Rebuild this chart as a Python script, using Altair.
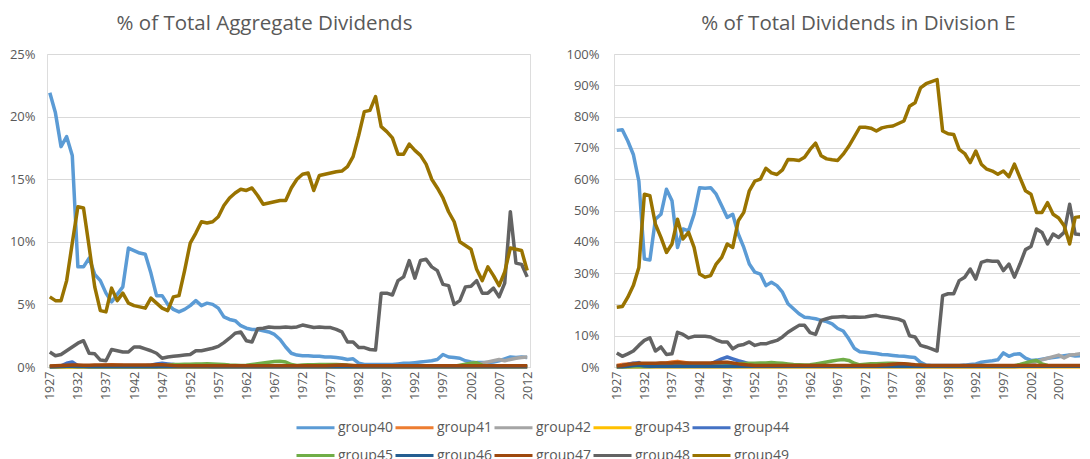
import altair as alt
import pandas as pd

years = list(range(1927, 2013))
groups = ["group40", "group41", "group42", "group43", "group44",
          "group45", "group46", "group47", "group48", "group49"]
colors = ["#5B9BD5", "#ED7D31", "#A5A5A5", "#FFC000", "#4472C4",
          "#70AD47", "#255E91", "#9E480E", "#636363", "#997300"]
x_ticks = [1927, 1932, 1937, 1942, 1947, 1952, 1957, 1962, 1967, 1972,
           1977, 1982, 1987, 1992, 1997, 2002, 2007, 2012]
left_y_ticks = [0, 5, 10, 15, 20, 25]
right_y_ticks = [0, 10, 20, 30, 40, 50, 60, 70, 80, 90, 100]

# ---------- Left panel: % of Total Aggregate Dividends ----------
L40 = [21.9, 20.3, 17.6, 18.4, 16.9, 8.0, 8.0, 8.7, 7.4, 6.9,
       5.9, 5.2, 5.8, 6.4, 9.5, 9.3, 9.1, 9.0, 7.5, 5.7,
       5.7, 5.0, 4.6, 4.4, 4.6, 4.9, 5.3, 4.9, 5.1, 5.0,
       4.7, 4.0, 3.8, 3.7, 3.3, 3.1, 3.0, 3.0, 2.9, 2.8,
       2.6, 2.2, 1.6, 1.1, 0.95, 0.9, 0.9, 0.85, 0.85, 0.8,
       0.8, 0.75, 0.7, 0.6, 0.65, 0.3, 0.2, 0.2, 0.2, 0.2,
       0.2, 0.2, 0.25, 0.3, 0.3, 0.35, 0.4, 0.45, 0.5, 0.6,
       1.0, 0.8, 0.75, 0.7, 0.5, 0.4, 0.35, 0.35, 0.35, 0.4,
       0.5, 0.65, 0.8, 0.75, 0.8, 0.75]
L41 = [0.05, 0.08, 0.1, 0.1, 0.08, 0.06, 0.06, 0.08, 0.1, 0.12,
       0.15, 0.18, 0.15, 0.12, 0.1, 0.1, 0.1, 0.08, 0.08, 0.1,
       0.1, 0.08, 0.06, 0.05, 0.05, 0.05, 0.04, 0.04, 0.04, 0.04,
       0.04, 0.04, 0.04, 0.03, 0.03, 0.03, 0.03, 0.03, 0.03, 0.03,
       0.03, 0.03, 0.03, 0.03, 0.03, 0.03, 0.03, 0.03, 0.03, 0.03,
       0.03, 0.03, 0.03, 0.03, 0.03, 0.03, 0.03, 0.03, 0.03, 0.03,
       0.02, 0.02, 0.02, 0.02, 0.02, 0.02, 0.02, 0.02, 0.02, 0.02,
       0.02, 0.02, 0.02, 0.02, 0.02, 0.02, 0.02, 0.02, 0.02, 0.02,
       0.02, 0.02, 0.02, 0.02, 0.02, 0.02]
L42 = [0.0, 0.0, 0.0, 0.0, 0.0, 0.0, 0.0, 0.0, 0.0, 0.0,
       0.0, 0.0, 0.0, 0.0, 0.0, 0.0, 0.0, 0.0, 0.0, 0.0,
       0.0, 0.0, 0.0, 0.0, 0.0, 0.0, 0.0, 0.0, 0.0, 0.0,
       0.0, 0.0, 0.0, 0.0, 0.0, 0.0, 0.0, 0.0, 0.0, 0.0,
       0.0, 0.0, 0.0, 0.0, 0.0, 0.0, 0.0, 0.0, 0.0, 0.0,
       0.0, 0.0, 0.0, 0.0, 0.0, 0.0, 0.0, 0.0, 0.0, 0.0,
       0.0, 0.0, 0.0, 0.0, 0.0, 0.0, 0.0, 0.0, 0.0, 0.0,
       0.0, 0.0, 0.0, 0.02, 0.05, 0.1, 0.2, 0.3, 0.4, 0.5,
       0.6, 0.5, 0.6, 0.7, 0.75, 0.8]
L43 = [0.01, 0.01, 0.01, 0.01, 0.01, 0.01, 0.01, 0.01, 0.01, 0.01,
       0.01, 0.01, 0.01, 0.01, 0.01, 0.01, 0.01, 0.01, 0.01, 0.01,
       0.01, 0.01, 0.01, 0.01, 0.01, 0.01, 0.01, 0.01, 0.01, 0.01,
       0.01, 0.01, 0.01, 0.01, 0.01, 0.01, 0.01, 0.01, 0.01, 0.01,
       0.01, 0.01, 0.01, 0.01, 0.01, 0.01, 0.01, 0.01, 0.01, 0.01,
       0.01, 0.01, 0.01, 0.01, 0.01, 0.01, 0.01, 0.01, 0.01, 0.01,
       0.01, 0.01, 0.01, 0.01, 0.01, 0.01, 0.01, 0.01, 0.01, 0.01,
       0.01, 0.01, 0.01, 0.01, 0.01, 0.01, 0.01, 0.01, 0.01, 0.01,
       0.01, 0.01, 0.01, 0.01, 0.01, 0.01]
L44 = [0.02, 0.05, 0.1, 0.3, 0.4, 0.1, 0.05, 0.05, 0.05, 0.05,
       0.05, 0.05, 0.05, 0.06, 0.06, 0.07, 0.08, 0.1, 0.15, 0.25,
       0.3, 0.25, 0.2, 0.15, 0.1, 0.08, 0.06, 0.05, 0.05, 0.04,
       0.04, 0.04, 0.04, 0.03, 0.03, 0.03, 0.03, 0.03, 0.03, 0.03,
       0.03, 0.03, 0.03, 0.03, 0.03, 0.03, 0.03, 0.03, 0.03, 0.03,
       0.03, 0.03, 0.03, 0.03, 0.03, 0.03, 0.03, 0.03, 0.03, 0.03,
       0.03, 0.03, 0.03, 0.03, 0.03, 0.03, 0.03, 0.03, 0.03, 0.03,
       0.03, 0.03, 0.03, 0.03, 0.03, 0.03, 0.03, 0.03, 0.03, 0.03,
       0.03, 0.03, 0.03, 0.03, 0.03, 0.03]
L45 = [0.03, 0.03, 0.03, 0.03, 0.03, 0.03, 0.03, 0.03, 0.03, 0.03,
       0.03, 0.03, 0.03, 0.03, 0.03, 0.03, 0.03, 0.03, 0.03, 0.03,
       0.1, 0.15, 0.2, 0.2, 0.22, 0.22, 0.24, 0.24, 0.25, 0.24,
       0.22, 0.2, 0.16, 0.14, 0.12, 0.14, 0.2, 0.26, 0.32, 0.38,
       0.44, 0.46, 0.4, 0.2, 0.13, 0.16, 0.18, 0.18, 0.19, 0.2,
       0.2, 0.19, 0.17, 0.15, 0.1, 0.08, 0.07, 0.07, 0.07, 0.07,
       0.07, 0.07, 0.07, 0.07, 0.07, 0.07, 0.07, 0.07, 0.07, 0.07,
       0.07, 0.07, 0.07, 0.14, 0.22, 0.3, 0.34, 0.15, 0.08, 0.07,
       0.07, 0.07, 0.07, 0.07, 0.07, 0.07]
L46 = [0.02, 0.02, 0.03, 0.05, 0.06, 0.04, 0.03, 0.02, 0.02, 0.02,
       0.02, 0.02, 0.02, 0.02, 0.02, 0.02, 0.02, 0.02, 0.02, 0.02,
       0.02, 0.02, 0.02, 0.02, 0.02, 0.02, 0.02, 0.02, 0.02, 0.02,
       0.02, 0.02, 0.02, 0.02, 0.02, 0.02, 0.02, 0.02, 0.02, 0.02,
       0.02, 0.02, 0.02, 0.02, 0.02, 0.02, 0.02, 0.02, 0.02, 0.02,
       0.02, 0.02, 0.02, 0.02, 0.02, 0.02, 0.02, 0.02, 0.02, 0.02,
       0.02, 0.02, 0.02, 0.02, 0.02, 0.02, 0.02, 0.02, 0.02, 0.02,
       0.02, 0.02, 0.02, 0.02, 0.02, 0.02, 0.02, 0.02, 0.02, 0.02,
       0.02, 0.02, 0.02, 0.02, 0.02, 0.02]
L47 = [0.08, 0.1, 0.12, 0.14, 0.15, 0.15, 0.14, 0.14, 0.15, 0.15,
       0.15, 0.16, 0.15, 0.15, 0.15, 0.15, 0.15, 0.15, 0.16, 0.18,
       0.18, 0.15, 0.12, 0.1, 0.1, 0.1, 0.1, 0.1, 0.1, 0.1,
       0.1, 0.1, 0.1, 0.1, 0.1, 0.1, 0.1, 0.1, 0.1, 0.1,
       0.1, 0.1, 0.1, 0.1, 0.1, 0.1, 0.1, 0.1, 0.1, 0.1,
       0.12, 0.14, 0.15, 0.14, 0.12, 0.1, 0.1, 0.1, 0.1, 0.1,
       0.1, 0.1, 0.1, 0.1, 0.1, 0.1, 0.1, 0.1, 0.1, 0.1,
       0.1, 0.1, 0.1, 0.1, 0.1, 0.1, 0.1, 0.1, 0.1, 0.1,
       0.1, 0.1, 0.1, 0.1, 0.1, 0.1]
L48 = [1.2, 0.9, 1.0, 1.3, 1.6, 1.9, 2.1, 1.1, 1.05, 0.55,
       0.5, 1.4, 1.3, 1.2, 1.2, 1.6, 1.6, 1.45, 1.3, 1.1,
       0.7, 0.8, 0.85, 0.9, 0.95, 1.0, 1.3, 1.3, 1.4, 1.5,
       1.65, 1.95, 2.3, 2.7, 2.8, 2.1, 2.0, 3.05, 3.1, 3.2,
       3.15, 3.15, 3.2, 3.15, 3.2, 3.35, 3.25, 3.15, 3.2, 3.15,
       3.15, 3.0, 2.8, 2.0, 2.0, 1.55, 1.55, 1.4, 1.35, 5.9,
       5.9, 5.75, 6.9, 7.2, 8.5, 7.1, 8.5, 8.6, 8.0, 7.7,
       6.6, 6.5, 5.0, 5.3, 6.4, 6.45, 6.9, 5.9, 5.9, 6.3,
       5.6, 6.7, 12.4, 8.3, 8.2, 7.2]
L49 = [5.6, 5.3, 5.3, 6.9, 9.9, 12.8, 12.7, 9.6, 6.4, 4.5,
       4.4, 6.3, 5.3, 5.9, 5.1, 4.9, 4.8, 4.7, 5.5, 5.1,
       4.7, 4.5, 5.6, 5.7, 7.7, 9.9, 10.7, 11.6, 11.5, 11.6,
       12.0, 12.9, 13.5, 13.9, 14.2, 14.1, 14.3, 13.7, 13.0, 13.1,
       13.2, 13.3, 13.3, 14.3, 15.0, 15.4, 15.5, 14.1, 15.3, 15.4,
       15.5, 15.6, 15.65, 16.0, 16.8, 18.5, 20.4, 20.5, 21.6, 19.2,
       18.8, 18.3, 17.0, 17.0, 17.8, 17.3, 16.9, 16.2, 15.0, 14.3,
       13.5, 12.4, 11.6, 10.0, 9.7, 9.4, 7.8, 6.9, 8.0, 7.3,
       6.5, 7.6, 9.5, 9.4, 9.3, 7.7]

# ---------- Right panel: % of Total Dividends in Division E ----------
R40 = [75.6, 75.8, 72.2, 67.9, 59.4, 34.5, 34.2, 47.2, 48.8, 56.8,
       53.1, 38.2, 44.1, 43.5, 48.8, 57.3, 57.1, 57.3, 55.2, 51.5,
       47.8, 48.8, 42.5, 38.2, 32.9, 30.3, 29.7, 26.0, 27.1, 26.0,
       23.9, 20.2, 18.6, 17.0, 15.9, 15.7, 15.4, 14.9, 14.5, 13.8,
       12.3, 11.5, 9.0, 6.0, 4.9, 4.7, 4.5, 4.3, 4.0, 3.9,
       3.7, 3.5, 3.4, 3.2, 3.0, 1.5, 0.6, 0.5, 0.5, 0.5,
       0.5, 0.5, 0.5, 0.6, 0.8, 1.0, 1.5, 1.8, 2.0, 2.3,
       4.5, 3.4, 4.1, 4.2, 2.8, 2.1, 2.2, 2.5, 2.8, 3.0,
       3.3, 3.6, 3.8, 3.5, 3.6, 3.6]
R41 = [0.5, 0.8, 1.0, 1.2, 0.9, 0.7, 0.8, 1.0, 1.2, 1.3,
       1.6, 1.8, 1.5, 1.2, 1.0, 0.9, 0.8, 0.8, 0.9, 1.0,
       1.0, 0.8, 0.6, 0.4, 0.3, 0.3, 0.3, 0.3, 0.3, 0.3,
       0.25, 0.25, 0.25, 0.2, 0.2, 0.2, 0.2, 0.2, 0.2, 0.2,
       0.2, 0.2, 0.2, 0.2, 0.2, 0.2, 0.2, 0.2, 0.2, 0.2,
       0.2, 0.2, 0.2, 0.2, 0.2, 0.2, 0.2, 0.2, 0.2, 0.2,
       0.15, 0.15, 0.15, 0.15, 0.15, 0.15, 0.15, 0.15, 0.15, 0.15,
       0.15, 0.15, 0.15, 0.15, 0.15, 0.15, 0.15, 0.15, 0.15, 0.15,
       0.15, 0.15, 0.15, 0.15, 0.15, 0.15]
R42 = [0.0, 0.0, 0.0, 0.0, 0.0, 0.0, 0.0, 0.0, 0.0, 0.0,
       0.0, 0.0, 0.0, 0.0, 0.0, 0.0, 0.0, 0.0, 0.0, 0.0,
       0.0, 0.0, 0.0, 0.0, 0.0, 0.0, 0.0, 0.0, 0.0, 0.0,
       0.0, 0.0, 0.0, 0.0, 0.0, 0.0, 0.0, 0.0, 0.0, 0.0,
       0.0, 0.0, 0.0, 0.0, 0.0, 0.0, 0.0, 0.0, 0.0, 0.0,
       0.0, 0.0, 0.0, 0.0, 0.0, 0.0, 0.0, 0.0, 0.0, 0.0,
       0.0, 0.0, 0.0, 0.0, 0.0, 0.0, 0.0, 0.0, 0.0, 0.0,
       0.0, 0.0, 0.0, 0.2, 0.5, 1.0, 1.7, 2.3, 2.8, 3.3,
       3.8, 2.9, 3.8, 4.0, 4.3, 4.4]
R43 = [0.05, 0.05, 0.05, 0.05, 0.05, 0.05, 0.05, 0.05, 0.05, 0.05,
       0.05, 0.05, 0.05, 0.05, 0.05, 0.05, 0.05, 0.05, 0.05, 0.05,
       0.05, 0.05, 0.05, 0.05, 0.05, 0.05, 0.05, 0.05, 0.05, 0.05,
       0.05, 0.05, 0.05, 0.05, 0.05, 0.05, 0.05, 0.05, 0.05, 0.05,
       0.05, 0.05, 0.05, 0.05, 0.05, 0.05, 0.05, 0.05, 0.05, 0.05,
       0.05, 0.05, 0.05, 0.05, 0.05, 0.05, 0.05, 0.05, 0.05, 0.05,
       0.05, 0.05, 0.05, 0.05, 0.05, 0.05, 0.05, 0.05, 0.05, 0.05,
       0.05, 0.05, 0.05, 0.05, 0.05, 0.05, 0.05, 0.05, 0.05, 0.05,
       0.05, 0.05, 0.05, 0.05, 0.05, 0.05]
R44 = [0.3, 0.5, 0.8, 1.2, 1.4, 0.5, 0.4, 0.4, 0.4, 0.4,
       0.4, 0.4, 0.4, 0.5, 0.5, 0.6, 0.8, 1.0, 1.8, 2.6,
       3.2, 2.6, 2.0, 1.5, 1.0, 0.7, 0.5, 0.4, 0.4, 0.3,
       0.3, 0.3, 0.3, 0.3, 0.3, 0.3, 0.3, 0.3, 0.3, 0.3,
       0.2, 0.2, 0.2, 0.2, 0.2, 0.2, 0.2, 0.2, 0.2, 0.2,
       0.2, 0.2, 0.2, 0.2, 0.2, 0.2, 0.2, 0.2, 0.2, 0.2,
       0.2, 0.2, 0.2, 0.2, 0.2, 0.2, 0.2, 0.2, 0.2, 0.2,
       0.2, 0.2, 0.2, 0.2, 0.2, 0.2, 0.2, 0.2, 0.2, 0.2,
       0.2, 0.2, 0.2, 0.2, 0.2, 0.2]
R45 = [0.1, 0.1, 0.1, 0.15, 0.15, 0.15, 0.15, 0.2, 0.2, 0.2,
       0.2, 0.2, 0.2, 0.2, 0.2, 0.2, 0.2, 0.2, 0.2, 0.2,
       0.5, 0.8, 1.0, 1.1, 1.2, 1.2, 1.3, 1.3, 1.4, 1.3,
       1.2, 1.0, 0.8, 0.7, 0.6, 0.7, 1.0, 1.3, 1.6, 1.9,
       2.2, 2.4, 2.1, 1.2, 0.7, 0.9, 1.0, 1.0, 1.1, 1.2,
       1.2, 1.1, 1.0, 0.8, 0.6, 0.5, 0.4, 0.4, 0.4, 0.4,
       0.4, 0.4, 0.4, 0.4, 0.4, 0.4, 0.4, 0.4, 0.4, 0.4,
       0.4, 0.4, 0.4, 0.8, 1.3, 1.8, 2.1, 1.0, 0.5, 0.4,
       0.4, 0.4, 0.4, 0.4, 0.4, 0.4]
R46 = [0.1, 0.1, 0.2, 0.5, 0.6, 0.3, 0.2, 0.2, 0.2, 0.2,
       0.2, 0.2, 0.2, 0.2, 0.2, 0.2, 0.2, 0.2, 0.2, 0.2,
       0.2, 0.2, 0.2, 0.2, 0.2, 0.2, 0.2, 0.2, 0.2, 0.2,
       0.2, 0.2, 0.2, 0.2, 0.2, 0.2, 0.2, 0.2, 0.2, 0.2,
       0.2, 0.2, 0.2, 0.2, 0.2, 0.2, 0.2, 0.2, 0.2, 0.2,
       0.2, 0.2, 0.2, 0.2, 0.2, 0.2, 0.2, 0.2, 0.2, 0.2,
       0.2, 0.2, 0.2, 0.2, 0.2, 0.2, 0.2, 0.2, 0.2, 0.2,
       0.2, 0.2, 0.2, 0.2, 0.2, 0.2, 0.2, 0.2, 0.2, 0.2,
       0.2, 0.2, 0.2, 0.2, 0.2, 0.2]
R47 = [0.3, 0.5, 0.8, 1.0, 1.2, 1.2, 1.2, 1.2, 1.3, 1.3,
       1.3, 1.4, 1.3, 1.3, 1.3, 1.3, 1.3, 1.3, 1.4, 1.5,
       1.5, 1.3, 1.0, 0.8, 0.6, 0.5, 0.5, 0.5, 0.5, 0.5,
       0.5, 0.5, 0.5, 0.5, 0.5, 0.5, 0.5, 0.5, 0.5, 0.5,
       0.5, 0.5, 0.5, 0.5, 0.5, 0.5, 0.5, 0.5, 0.6, 0.7,
       0.9, 1.0, 1.0, 0.9, 0.7, 0.6, 0.5, 0.5, 0.5, 0.5,
       0.5, 0.5, 0.5, 0.5, 0.5, 0.5, 0.5, 0.5, 0.5, 0.5,
       0.5, 0.5, 0.5, 0.5, 0.5, 0.5, 0.5, 0.5, 0.5, 0.5,
       0.5, 0.5, 0.5, 0.5, 0.5, 0.5]
R48 = [4.5, 3.4, 4.2, 5.1, 6.9, 8.5, 9.3, 5.1, 6.4, 4.0,
       4.2, 11.1, 10.4, 9.3, 9.8, 9.8, 9.8, 9.6, 8.7, 8.0,
       8.0, 5.8, 6.9, 7.2, 8.0, 6.9, 7.4, 7.4, 8.0, 8.5,
       9.6, 11.1, 12.2, 13.3, 13.3, 11.0, 10.4, 14.9, 15.4, 15.9,
       16.0, 16.1, 15.9, 16.0, 15.9, 16.0, 16.3, 16.5, 16.1, 15.9,
       15.6, 15.3, 14.6, 10.0, 9.6, 6.9, 6.4, 5.8, 5.1, 22.8,
       23.4, 23.4, 27.6, 28.7, 31.3, 28.1, 33.4, 34.0, 33.8, 33.8,
       30.8, 32.9, 28.7, 32.9, 37.5, 38.5, 44.1, 43.0, 39.3, 42.5,
       41.4, 43.0, 52.0, 42.5, 42.3, 43.0]
R49 = [19.1, 19.3, 22.3, 26.0, 31.8, 55.2, 54.7, 45.6, 41.4, 36.6,
       39.3, 47.2, 40.9, 43.0, 38.2, 29.7, 28.7, 29.2, 32.9, 35.0,
       39.3, 38.2, 46.7, 49.4, 56.3, 59.4, 60.0, 63.5, 62.0, 61.5,
       63.0, 66.3, 66.2, 66.0, 67.0, 69.5, 71.5, 67.5, 66.5, 66.2,
       66.0, 68.0, 70.5, 73.5, 76.6, 76.6, 76.3, 75.4, 76.4, 76.8,
       77.0, 77.8, 78.6, 83.3, 84.4, 89.2, 90.5, 91.2, 91.8, 75.4,
       74.5, 74.3, 69.5, 68.2, 65.3, 69.0, 64.8, 63.2, 62.6, 61.6,
       62.6, 60.8, 64.8, 60.5, 56.3, 55.2, 49.4, 49.4, 52.5, 48.8,
       47.6, 45.1, 39.3, 47.8, 48.0, 46.7]

left_series = [L40, L41, L42, L43, L44, L45, L46, L47, L48, L49]
right_series = [R40, R41, R42, R43, R44, R45, R46, R47, R48, R49]


def to_long(series_list):
    rows = []
    for gi, (g, vals) in enumerate(zip(groups, series_list)):
        for y, v in zip(years, vals):
            rows.append({"year": y, "group": g, "value": v, "order": gi})
    return pd.DataFrame(rows)


left_df = to_long(left_series)
right_df = to_long(right_series)

FONT = "Open Sans"
TEXT = "#595959"
GRID = "#D9D9D9"

color_enc = alt.Color(
    "group:N",
    scale=alt.Scale(domain=groups, range=colors),
    legend=alt.Legend(
        title=None, orient="none", legendX=248, legendY=353,
        direction="horizontal", columns=5,
        symbolType="stroke", symbolSize=1444, symbolStrokeWidth=3,
        labelFontSize=14, labelColor=TEXT, labelFont=FONT,
        labelOffset=2, columnPadding=-4, rowPadding=-3,
    ),
)


def panel(df, title, ymax, yticks, width, lab_pad, dx):
    return alt.Chart(df).mark_line(strokeWidth=3.5, strokeJoin="round").encode(
        x=alt.X("year:Q",
                scale=alt.Scale(domain=[1926.5, 2012.5], nice=False, zero=False),
                axis=alt.Axis(values=x_ticks, format="d", labelAngle=270,
                              grid=False, ticks=False, domain=True,
                              domainColor=GRID, title=None, labelColor=TEXT,
                              labelFontSize=12.5, labelFont=FONT, labelPadding=4,
                              labelFlush=False, labelOverlap=False)),
        y=alt.Y("value:Q",
                scale=alt.Scale(domain=[0, ymax], nice=False),
                axis=alt.Axis(values=yticks, labelExpr="datum.value + '%'",
                              grid=True, gridColor=GRID, domain=False,
                              ticks=False, title=None, labelColor=TEXT,
                              labelFontSize=13, labelFont=FONT,
                              labelPadding=lab_pad)),
        color=color_enc,
        order=alt.Order("order:Q"),
    ).properties(
        width=width, height=313,
        title=alt.Title(title, font=FONT, fontSize=20.5, fontWeight="normal",
                        color=TEXT, anchor="middle", offset=14, dx=dx),
    )


left = panel(left_df, "% of Total Aggregate Dividends", 25, left_y_ticks,
             483, 12, -24)
right = panel(right_df, "% of Total Dividends in Division E", 100, right_y_ticks,
              475, 15, 7)

chart = alt.hconcat(left, right, spacing=30).properties(
    padding={"left": 0, "top": 5, "right": -14, "bottom": 0}
).configure_view(stroke=None).configure(font=FONT)

chart.save("out.html", embed_options={"renderer": "svg", "actions": False})
